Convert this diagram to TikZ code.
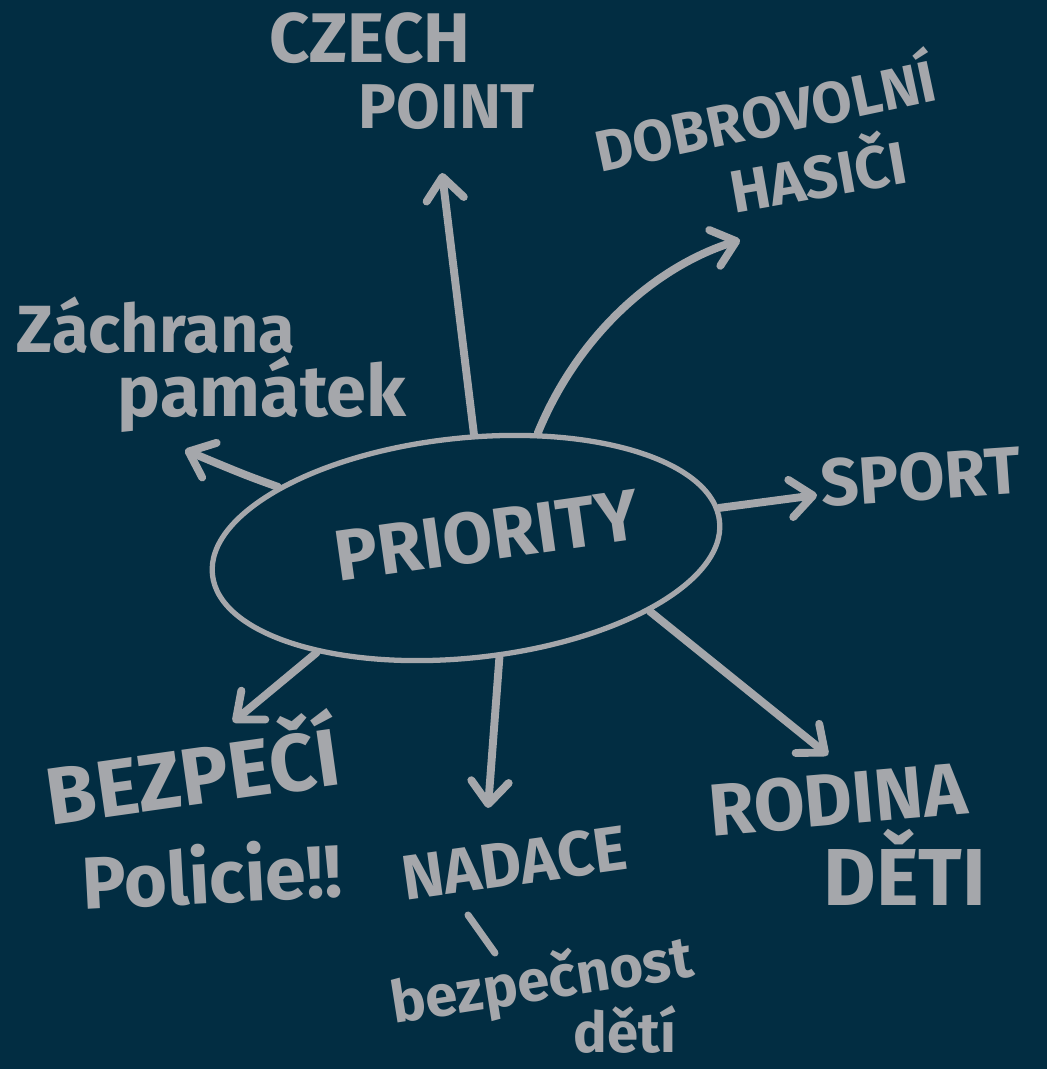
\documentclass[tikz,border=0pt]{standalone}
\usepackage{fontspec}
\setmainfont{Fira Sans}
\usetikzlibrary{arrows.meta,shapes.geometric}
\definecolor{board}{HTML}{022D42}
\definecolor{chalk}{HTML}{A5A7AB}
\tikzset{
  hand/.style={text=chalk, font=\bfseries\fontsize{#1}{#1}\selectfont, inner sep=0pt, anchor=base},
  hand/.default=38,
  arr/.style={chalk, line width=4.5pt, line cap=round, -{Straight Barb[length=0.45cm,width=0.75cm,round]}},
  tick/.style={chalk, line width=4pt, line cap=round}
}
\begin{document}
\begin{tikzpicture}[x=0.02cm,y=-0.02cm]
\path[use as bounding box, fill=board](0,0) rectangle (1047,1069);

% centre
\node[draw=chalk, line width=3pt, ellipse, minimum width=10.2cm, minimum height=4.4cm, rotate=6, inner sep=0pt] (prio) at (466,548) {};
\node[hand=41, rotate=8] (priotext) at (490,560) {PRIORITY};

% branches
\node[hand=40] (czech) at (370,62) {CZECH};
\node[hand=36] (point) at (447,128) {POINT};
\node[hand=33, rotate=12] (dobro) at (770,136) {DOBROVOLNÍ};
\node[hand=34, rotate=10] (hasici) at (822,198) {HASIČI};
\node[hand=38] (zachrana) at (156,352) {Záchrana};
\node[hand=41] (pamatek) at (262,416) {památek};
\node[hand=38, rotate=4] (sport) at (922,500) {SPORT};
\node[hand=46, rotate=8] (bezpeci) at (197,805) {BEZPEČÍ};
\node[hand=42, rotate=3] (policie) at (213,903) {Policie!!};
\node[hand=36, rotate=8] (nadace) at (517,885) {NADACE};
\node[hand=33, rotate=9] (bezpecnost) at (545,1000) {bezpečnost};
\node[hand=32] (deti) at (625,1052) {dětí};
\node[hand=42, rotate=5] (rodina) at (840,825) {RODINA};
\node[hand=46] (detiB) at (905,905) {DĚTI};

% arrow tips
\coordinate (czechtip) at (442,173);
\coordinate (dobrotip) at (740,240);
\coordinate (zachtip) at (185,450);
\coordinate (sporttip) at (817,495);
\coordinate (bezptip) at (233,722);
\coordinate (nadtip) at (488,808);
\coordinate (rodtip) at (828,755);

\draw[arr](prio.80) -- (czechtip);
\draw[arr](prio.52) .. controls (580,330) and (660,265) .. (dobrotip);
\draw[arr](prio.156) .. controls (245,475) .. (zachtip);
\draw[arr](prio.3) -- (sporttip);
\draw[arr](prio.209) -- (bezptip);
\draw[arr](prio.281) -- (nadtip);
\draw[arr](prio.335) -- (rodtip);
\draw[tick](468,915) -- (495,953);
\end{tikzpicture}
\end{document}
